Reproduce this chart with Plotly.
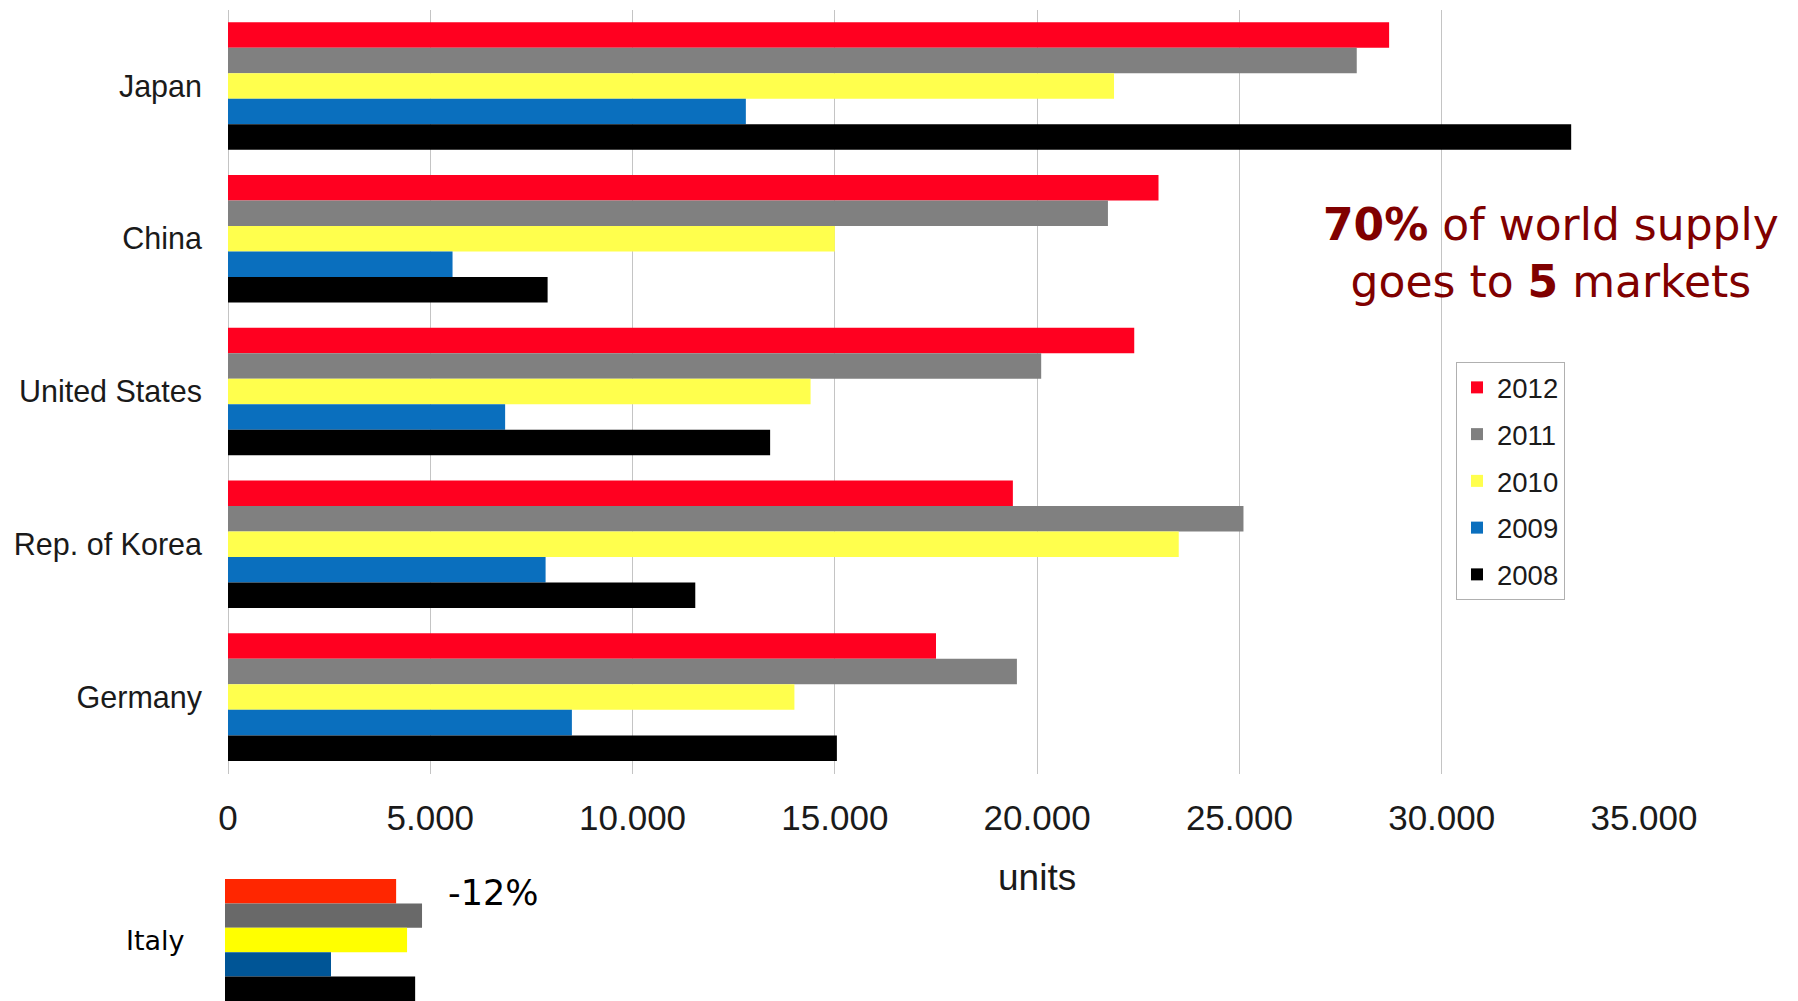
import plotly.graph_objects as go

countries = ["Japan", "China", "United States", "Rep. of Korea", "Germany"]
years = ["2012", "2011", "2010", "2009", "2008"]
v2012 = [28700, 23000, 22400, 19400, 17500]
v2011 = [27900, 21750, 20100, 25100, 19500]
v2010 = [21900, 15000, 14400, 23500, 14000]
v2009 = [12800, 5550, 6850, 7850, 8500]
v2008 = [33200, 7900, 13400, 11550, 15050]
series = [v2012, v2011, v2010, v2009, v2008]
colors = ["#FF0020", "#808080", "#FFFF4D", "#0A6FBE", "#000000"]

italy_label = ["Italy"]
italy_vals = [4230, 4870, 4500, 2620, 4700]
italy_colors = ["#FF2600", "#696969", "#FFFF00", "#005596", "#000000"]

xticks = [0, 5000, 10000, 15000, 20000, 25000, 30000, 35000]
xticklabels = ["0", "5.000", "10.000", "15.000", "20.000", "25.000", "30.000", "35.000"]

W, H = 1798, 1001
OX, OY = 8, 8  # page body offset compensation


def px(x):
    return (x - OX) / W


def py(y):
    return 1 - (y - OY) / H


fig = go.Figure()
for yr, vals, col in zip(years, series, colors):
    fig.add_trace(go.Bar(
        y=countries, x=vals, name=yr, orientation="h",
        marker=dict(color=col, line=dict(width=0)),
        legendgroup=yr, xaxis="x", yaxis="y",
    ))
for yr, val, col in zip(years, italy_vals, italy_colors):
    fig.add_trace(go.Bar(
        y=italy_label, x=[val], name=yr, orientation="h",
        marker=dict(color=col, line=dict(width=0)),
        showlegend=False, xaxis="x2", yaxis="y2",
    ))

bargap = 0.165
half = 0.5 - bargap / 2
fig.update_layout(
    width=W, height=H, autosize=False,
    margin=dict(l=0, r=0, t=0, b=0, pad=0),
    paper_bgcolor="white", plot_bgcolor="white",
    barmode="group", bargap=bargap, bargroupgap=0,
    font=dict(family="Liberation Sans, Arial, sans-serif", color="#1a1a1a"),
    xaxis=dict(
        domain=[px(228), px(1644)], range=[0, 35000],
        tickvals=xticks, ticktext=xticklabels,
        showgrid=True, gridcolor="#c4c4c4", gridwidth=1,
        zeroline=True, zerolinecolor="#c4c4c4", zerolinewidth=1,
        showline=False, ticks="", automargin=False,
        tickfont=dict(size=35, family="Liberation Sans, Arial, sans-serif", color="#1a1a1a"),
        ticklabelstandoff=20,
        anchor="y",
    ),
    yaxis=dict(
        domain=[py(773.5), py(9.6)], autorange="reversed",
        showgrid=False, ticks="", showline=False, automargin=False,
        tickfont=dict(size=30.5, family="Liberation Sans, Arial, sans-serif", color="#1a1a1a"),
        ticklabelstandoff=25,
        anchor="x",
    ),
    xaxis2=dict(
        domain=[px(225), px(225 + 1416)], range=[0, 35000],
        visible=False, anchor="y2", automargin=False,
    ),
    yaxis2=dict(
        domain=[py(1001), py(879)], range=[half, -half],
        showgrid=False, ticks="", showline=False, showticklabels=False,
        anchor="x2", automargin=False,
    ),
    legend=dict(
        x=px(1456), y=py(362), xanchor="left", yanchor="top",
        bordercolor="#b0b0b0", borderwidth=1, bgcolor="white",
        font=dict(size=27.5, family="Liberation Sans, Arial, sans-serif", color="#1a1a1a"),
        tracegroupgap=8, itemwidth=30,
    ),
    showlegend=True,
)

fig.add_annotation(
    x=20000, xref="x", y=py(877), yref="paper",
    text="units", showarrow=False, xanchor="center", yanchor="middle",
    font=dict(size=37, family="Liberation Sans, Arial, sans-serif", color="#1a1a1a"),
)
fig.add_annotation(
    x=px(1551), xref="paper", y=py(253), yref="paper",
    text="<b>70%</b> of world supply<br>goes to <b>5</b> markets",
    showarrow=False, align="center", xanchor="center", yanchor="middle",
    font=dict(size=44, family="DejaVu Sans, Verdana, sans-serif", color="#800000"),
)
fig.add_annotation(
    x=px(155), xref="paper", y=py(940), yref="paper",
    text="Italy", showarrow=False, xanchor="center", yanchor="middle",
    font=dict(size=27, family="DejaVu Sans, Verdana, sans-serif", color="#000000"),
)
fig.add_annotation(
    x=px(493), xref="paper", y=py(893), yref="paper",
    text="-12%", showarrow=False, xanchor="center", yanchor="middle",
    font=dict(size=35, family="DejaVu Sans, Verdana, sans-serif", color="#000000"),
)

fig.write_html("out.html")
